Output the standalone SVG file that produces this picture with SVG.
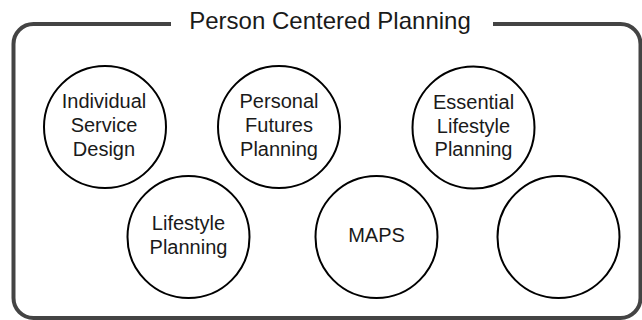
<svg xmlns="http://www.w3.org/2000/svg" width="642" height="320" viewBox="0 0 642 320">
  <style>
    .frame { fill: #ffffff; stroke: #444444; stroke-width: 4; }
    .node { fill: #ffffff; stroke: #000000; stroke-width: 2; }
    .label { font-family: "Liberation Sans", Arial, sans-serif; font-size: 20px; fill: #1a1a1a; text-anchor: middle; }
    .title { font-family: "Liberation Sans", Arial, sans-serif; font-size: 24px; fill: #1a1a1a; text-anchor: middle; }
  </style>
  <rect width="642" height="320" fill="#ffffff"/>
  <g id="container">
    <rect class="frame" x="13.5" y="24" width="627" height="294" rx="20" ry="20"/>
    <rect x="171" y="10" width="322" height="26" fill="#ffffff"/>
    <text class="title" x="330" y="28.5">Person Centered Planning</text>
  </g>
  <g id="connectors"></g>
  <g id="node-isd">
    <circle class="node" cx="105" cy="127" r="61"/>
    <text class="label" x="104" y="108">Individual</text>
    <text class="label" x="104" y="132">Service</text>
    <text class="label" x="104" y="155.5">Design</text>
  </g>
  <g id="node-pfp">
    <circle class="node" cx="279" cy="127" r="61"/>
    <text class="label" x="279" y="108">Personal</text>
    <text class="label" x="279" y="132">Futures</text>
    <text class="label" x="279" y="155.5">Planning</text>
  </g>
  <g id="node-elp">
    <circle class="node" cx="473.5" cy="127.5" r="61"/>
    <text class="label" x="473.5" y="108.5">Essential</text>
    <text class="label" x="473.5" y="132.5">Lifestyle</text>
    <text class="label" x="473.5" y="156">Planning</text>
  </g>
  <g id="node-lp">
    <circle class="node" cx="188.5" cy="237" r="61"/>
    <text class="label" x="188.5" y="230">Lifestyle</text>
    <text class="label" x="188.5" y="253.5">Planning</text>
  </g>
  <g id="node-maps">
    <circle class="node" cx="376.5" cy="237" r="61"/>
    <text class="label" x="376.5" y="242">MAPS</text>
  </g>
  <g id="node-empty">
    <circle class="node" cx="558.5" cy="237" r="61"/>
  </g>
</svg>
